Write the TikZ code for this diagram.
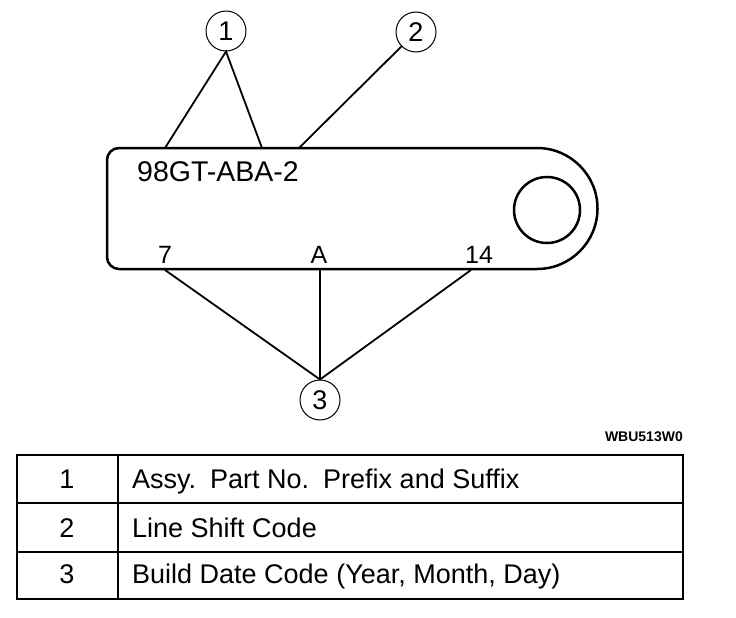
\documentclass[tikz,border=0pt]{standalone}
\usepackage{fontspec}
\setmainfont{Liberation Sans}

\begin{document}
\begin{tikzpicture}[x=1pt,y=-1pt,
  callout/.style={circle,draw,line width=1pt,inner sep=0pt,minimum size=40pt,font=\fontsize{27}{29}\selectfont},
  leader/.style={line width=1.8pt},
  tag/.style={inner sep=0pt,font=\fontsize{25}{27}\selectfont},
  cell/.style={inner sep=0pt,anchor=base,font=\fontsize{27}{29}\selectfont}]
\useasboundingbox (0,0) rectangle (736,618);
\draw[line width=2.5pt] (119,148) -- (537,148) arc (-90:90:60.5) -- (119,269) arc (90:180:12) -- (107,160) arc (180:270:12) -- cycle;
\draw[line width=2.5pt] (547,210) circle (33);
\node[anchor=base west,inner sep=0pt,font=\fontsize{28.5}{30}\selectfont] (code) at (137,181) {98GT-ABA-2};
\node[tag,anchor=base] (l7) at (165,263) {7};
\node[tag,anchor=base] (lA) at (319,263) {A};
\node[tag,anchor=base] (l14) at (479,263) {14};
\node[callout] (c1) at (226,31) {1};
\node[callout] (c2) at (416,32) {2};
\node[callout] (c3) at (320,400) {3};
\coordinate (p1a) at (165,148); \coordinate (p1b) at (262,148); \coordinate (p2) at (299,148);
\coordinate (b7) at (165,270); \coordinate (bA) at (320,270); \coordinate (b14) at (471,270);
\draw[leader] (p1a) -- (c1.south) -- (p1b);
\draw[leader] (c2) -- (p2);
\draw[leader] (b7) -- (c3.north) -- (b14);
\draw[leader] (bA) -- (c3.north);
\node[anchor=east,inner sep=0pt,font=\fontsize{14}{16}\selectfont\bfseries] (fig) at (683,437) {WBU513W0};
\draw[line width=2.5pt] (17,455) rectangle (683,599);
\draw[line width=2.5pt] (118,455) -- (118,599);
\draw[line width=2.5pt] (17,503) -- (683,503);
\draw[line width=2.5pt] (17,552) -- (683,552);
\node[cell] (n1) at (67,488) {1};
\node[cell] (n2) at (67,537) {2};
\node[cell] (n3) at (67,583) {3};
\node[cell,anchor=base west] (d1) at (132,488) {Assy.\hspace{4pt} Part No.\hspace{4pt} Prefix and Suffix};
\node[cell,anchor=base west] (d2) at (132,537) {Line Shift Code};
\node[cell,anchor=base west] (d3) at (132,583) {Build Date Code (Year, Month, Day)};
\end{tikzpicture}
\end{document}
